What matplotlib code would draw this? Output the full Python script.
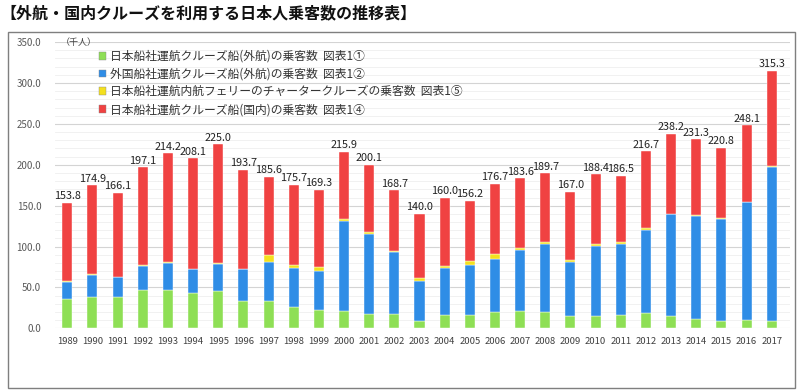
import numpy as np
import matplotlib
matplotlib.use("Agg")
import matplotlib.pyplot as plt
from matplotlib.patches import Patch, Rectangle

plt.rcParams['font.family'] = ['Noto Sans CJK JP', 'DejaVu Sans']

# years and passenger counts (thousand people)
years = list(range(1989, 2018))

# 日本船社運航クルーズ船(外航)
jp_intl = [35.5, 38.0, 38.0, 46.5, 47.0, 43.0, 45.3, 33.5, 33.0, 26.0,
           22.4, 20.8, 17.5, 17.5, 9.4, 15.9, 16.7, 20.4, 21.6, 20.4,
           15.1, 15.1, 15.9, 19.2, 15.1, 11.8, 9.4, 10.6, 9.4]
# 外国船社運航クルーズ船(外航)
foreign_intl = [21.2, 27.7, 24.8, 29.8, 33.0, 29.6, 33.7, 39.1, 47.8, 47.4,
                47.8, 110.6, 98.0, 75.5, 48.9, 57.5, 60.8, 64.1, 74.3, 82.8,
                66.5, 86.1, 87.3, 101.2, 124.4, 126.1, 124.8, 143.6, 188.5]
# 日本船社運航内航フェリーのチャータークルーズ
ferry_charter = [0.8, 0.6, 0.6, 0.6, 0.6, 0.6, 0.6, 0.6, 8.6, 4.6,
                 5.3, 2.0, 2.5, 1.7, 2.9, 3.3, 4.9, 6.9, 2.4, 2.1,
                 2.4, 2.4, 2.1, 2.4, 0.9, 0.6, 0.6, 0.6, 0.6]
# totals shown above bars
totals = [153.8, 174.9, 166.1, 197.1, 214.2, 208.1, 225.0, 193.7, 185.6, 175.7,
          169.3, 215.9, 200.1, 168.7, 140.0, 160.0, 156.2, 176.7, 183.6, 189.7,
          167.0, 188.4, 186.5, 216.7, 238.2, 231.3, 220.8, 248.1, 315.3]
# 日本船社運航クルーズ船(国内) = remainder
jp_domestic = [t - a - b - c for t, a, b, c in zip(totals, jp_intl, foreign_intl, ferry_charter)]

labels = ['日本船社運航クルーズ船(外航)の乗客数  図表1①',
          '外国船社運航クルーズ船(外航)の乗客数  図表1②',
          '日本船社運航内航フェリーのチャータークルーズの乗客数  図表1⑤',
          '日本船社運航クルーズ船(国内)の乗客数  図表1④']
colors = ['#8EDF55', '#2F8DE6', '#F4E01E', '#F04242']

fig = plt.figure(figsize=(8, 3.9), dpi=100)

# outer frame
fig.patches.append(Rectangle((0.01, 0.006), 0.984, 0.912, transform=fig.transFigure,
                             fill=False, edgecolor='#7f7f7f', linewidth=1.0))

fig.text(0.0, 0.967, '【外航・国内クルーズを利用する日本人乗客数の推移表】',
         fontsize=11.5, fontweight='bold', va='center', ha='left', color='#111111')

ax = fig.add_axes([0.069, 0.158, 0.918, 0.734])
x = np.arange(len(years))
w = 0.4
bottom = np.zeros(len(years))
for vals, col in zip([jp_intl, foreign_intl, ferry_charter, jp_domestic], colors):
    ax.bar(x, vals, w, bottom=bottom, color=col, edgecolor='white', linewidth=0.3, zorder=3)
    bottom += np.array(vals)

for xi, t in zip(x, totals):
    ax.text(xi, t + 2, f'{t:.1f}', ha='center', va='bottom', fontsize=7.8,
            color='#222222', zorder=4)

ax.set_xlim(-0.48, 28.71)
ax.set_ylim(0, 350)
ax.set_yticks(np.arange(0, 351, 50))
ax.set_yticklabels([f'{v:.1f}' for v in np.arange(0, 351, 50)], fontsize=7, color='#595959')
ax.set_yticks(np.arange(0, 351, 10), minor=True)
ax.set_xticks(x)
ax.set_xticklabels([str(y) for y in years], fontsize=6.8, color='#404040')
ax.tick_params(axis='both', length=0, which='both')
ax.tick_params(axis='y', pad=10)
ax.tick_params(axis='x', pad=6)
ax.grid(axis='y', which='major', color='#d4d4d4', linewidth=0.8, zorder=0)
ax.grid(axis='y', which='minor', color='#efefef', linewidth=0.6, zorder=0)
for s in ax.spines.values():
    s.set_visible(False)

ax.text(0.008, 350, '（千人）', fontsize=6.5, color='#404040', va='center', ha='left',
        transform=ax.get_yaxis_transform())

handles = [Patch(facecolor=c, edgecolor='#888888', linewidth=0.3) for c in colors]
fig.legend(handles, labels, loc='upper left', bbox_to_anchor=(0.124, 0.872),
           frameon=False, fontsize=8.5, handlelength=0.6, handleheight=0.6,
           handletextpad=0.3, labelspacing=0.4, labelcolor='#333333',
           borderaxespad=0, borderpad=0)

fig.savefig('out.png', dpi=100)
